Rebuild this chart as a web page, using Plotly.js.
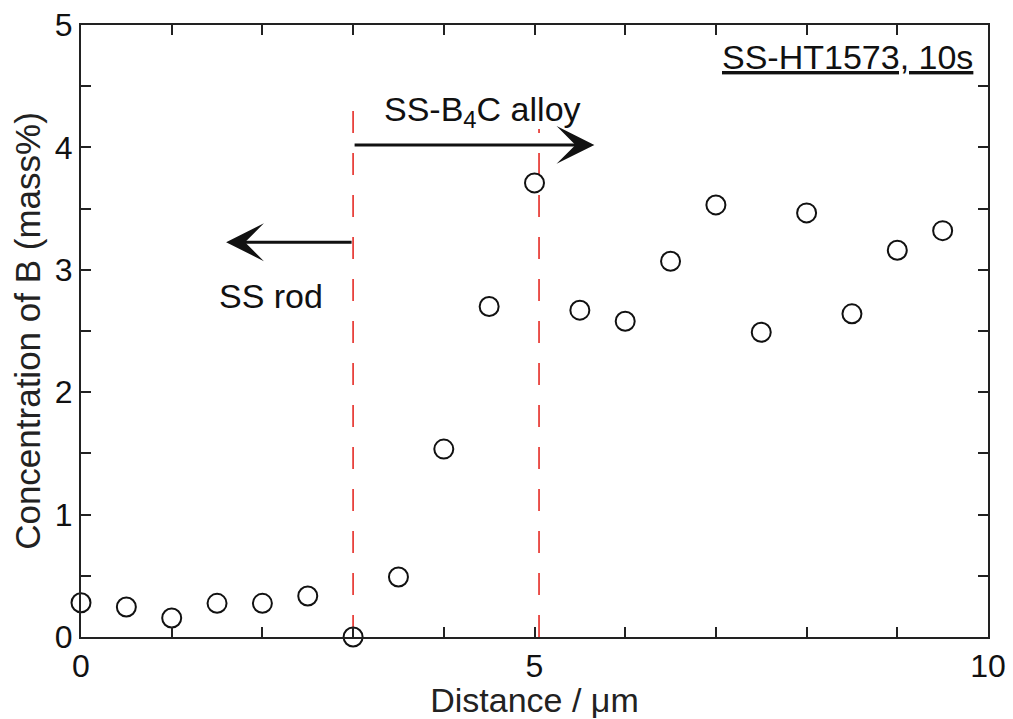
<!DOCTYPE html>
<html>
<head>
<meta charset="utf-8">
<script src="https://cdn.plot.ly/plotly-3.0.1.min.js"></script>
<style>html,body{margin:0;padding:0;background:#fff;}#chart{width:1013px;height:719px;}</style>
</head>
<body>
<div id="chart"></div>
<script>
// Data
const distance = [0, 0.5, 1, 1.5, 2, 2.5, 3, 3.5, 4, 4.5, 5, 5.5, 6, 6.5, 7, 7.5, 8, 8.5, 9, 9.5];
const concB    = [0.28, 0.245, 0.155, 0.275, 0.275, 0.335, 0.0, 0.49, 1.535, 2.70, 3.71, 2.67, 2.58, 3.07, 3.53, 2.49, 3.465, 2.64, 3.16, 3.32];

// Interface (red dashed) lines: x position and top y
const boundaryX   = [3.0, 5.05];
const boundaryTop = [4.31, 4.15];

// Arrows: [tailX, headX, y]
const alloyArrow = [3.0, 5.66, 4.02];
const rodArrow   = [3.0, 1.6, 3.225];

// Labels
const alloyLabel = {text: 'SS-B<sub>4</sub>C alloy', x: 4.43, y: 4.29};
const rodLabel   = {text: 'SS rod', x: 2.1, y: 2.79};
const sampleLabel = 'SS-HT1573, 10s';

const xTitle = 'Distance / μm';
const yTitle = 'Concentration of B (mass%)';

const FONT = 'Liberation Sans, Arial, sans-serif';

const traces = [];
boundaryX.forEach((bx, i) => {
  traces.push({
    x: [bx, bx], y: [0, boundaryTop[i]],
    mode: 'lines', type: 'scatter', showlegend: false, hoverinfo: 'skip',
    line: {color: '#e8423d', width: 1.8, dash: '22px,20px'}
  });
});
traces.push({
  x: distance, y: concB, mode: 'markers', type: 'scatter', showlegend: false,
  cliponaxis: false,
  marker: {symbol: 'circle-open', size: 19, color: '#111', line: {width: 2, color: '#111'}}
});

const arrowStyle = {xref: 'x', yref: 'y', axref: 'x', ayref: 'y', text: '', showarrow: true,
  arrowhead: 3, arrowsize: 2.1, arrowwidth: 3, arrowcolor: '#111', standoff: 0, startstandoff: 0};

const annotations = [
  Object.assign({x: alloyArrow[1], y: alloyArrow[2], ax: alloyArrow[0], ay: alloyArrow[2]}, arrowStyle),
  Object.assign({x: rodArrow[1], y: rodArrow[2], ax: rodArrow[0], ay: rodArrow[2]}, arrowStyle),
  {x: alloyLabel.x, y: alloyLabel.y, xref: 'x', yref: 'y', text: alloyLabel.text, showarrow: false,
   font: {family: FONT, size: 34, color: '#111'}},
  {x: rodLabel.x, y: rodLabel.y, xref: 'x', yref: 'y', text: rodLabel.text, showarrow: false,
   font: {family: FONT, size: 34, color: '#111'}},
  {x: 0.986, y: 0.948, xref: 'paper', yref: 'paper', xanchor: 'right', yanchor: 'middle',
   text: '<u>' + sampleLabel + '</u>', showarrow: false,
   font: {family: FONT, size: 34, color: '#111'}}
];

const layout = {
  width: 1013, height: 719,
  margin: {l: 81, r: 25, t: 25, b: 82},
  paper_bgcolor: '#fff', plot_bgcolor: '#fff',
  font: {family: FONT, color: '#111'},
  xaxis: {
    range: [0, 10], dtick: 5, tick0: 0,
    ticks: 'inside', ticklen: 10, tickwidth: 2, tickcolor: '#222',
    minor: {dtick: 1, ticks: 'inside', ticklen: 10, tickwidth: 2, tickcolor: '#222'},
    showline: true, linecolor: '#222', linewidth: 2, mirror: 'ticks',
    showgrid: false, zeroline: false,
    tickfont: {family: FONT, size: 32, color: '#111'},
    title: {text: xTitle, font: {family: FONT, size: 34, color: '#222'}, standoff: 0}
  },
  yaxis: {
    range: [0, 5], dtick: 1, tick0: 0,
    ticks: 'inside', ticklen: 10, tickwidth: 2, tickcolor: '#222',
    minor: {dtick: 0.5, ticks: 'inside', ticklen: 10, tickwidth: 2, tickcolor: '#222'},
    showline: true, linecolor: '#222', linewidth: 2, mirror: 'ticks',
    showgrid: false, zeroline: false,
    tickfont: {family: FONT, size: 32, color: '#111'},
    title: {text: yTitle, font: {family: FONT, size: 35, color: '#222'}, standoff: 4}
  },
  annotations: annotations,
  showlegend: false
};

Plotly.newPlot('chart', traces, layout, {displayModeBar: false, staticPlot: true});
</script>
</body>
</html>
